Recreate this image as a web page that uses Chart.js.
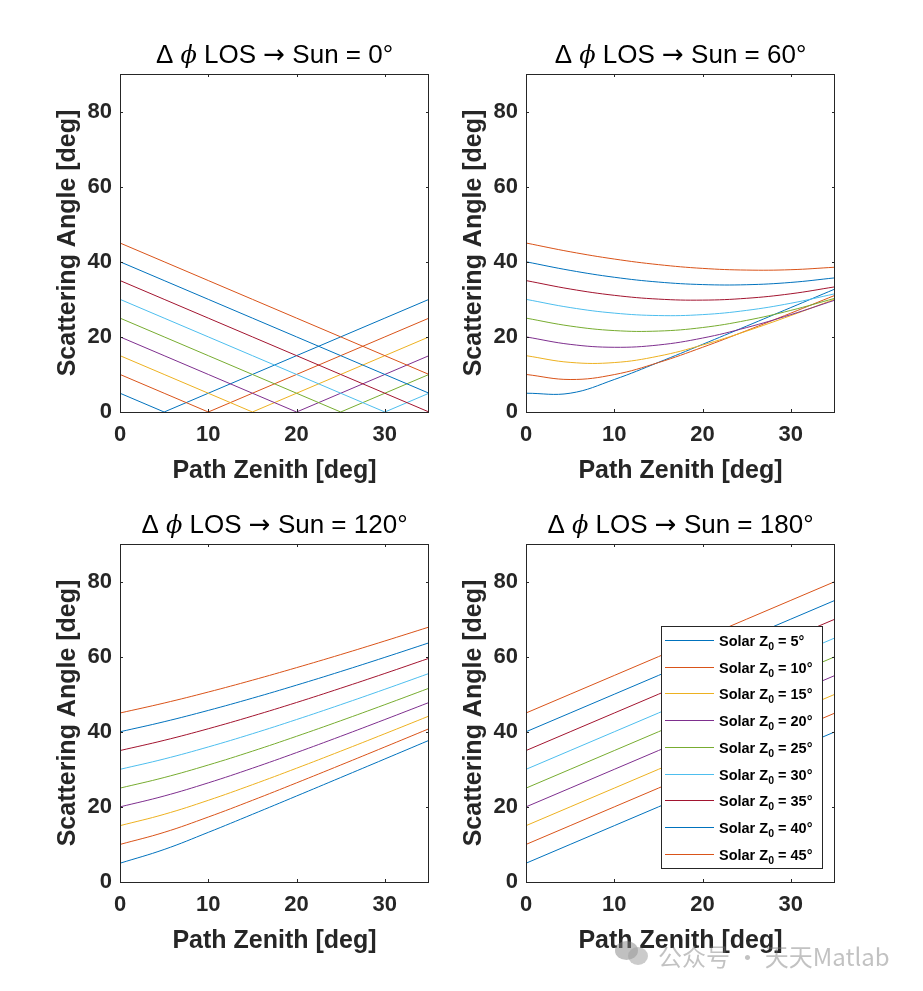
<!DOCTYPE html>
<html>
<head>
<meta charset="utf-8">
<script src="https://cdn.jsdelivr.net/npm/chart.js@4.4.1/dist/chart.umd.min.js"></script>
<style>
  body { margin: 0; background: #fff; }
  #page { position: relative; width: 923px; height: 991px; overflow: hidden; background: #fff; }
  canvas { position: absolute; }
  #mark { position: absolute; left: 658px; top: 941px; font-family: "Noto Sans CJK SC", sans-serif; font-size: 24px; line-height: 30px; color: rgba(120,120,120,0.45); white-space: nowrap; }
  .bubble { position: absolute; border-radius: 50%; background: rgba(130,130,130,0.5); }
</style>
</head>
<body>
<div id="page">
  <canvas id="p0" width="461" height="495" style="left:0px;top:0px"></canvas>
  <canvas id="p1" width="461" height="495" style="left:406px;top:0px"></canvas>
  <canvas id="p2" width="461" height="495" style="left:0px;top:470px"></canvas>
  <canvas id="p3" width="461" height="495" style="left:406px;top:470px"></canvas>
  <div class="bubble" style="left:615px;top:941px;width:23px;height:19px"></div>
  <div class="bubble" style="left:628px;top:947px;width:20px;height:18px;background:rgba(160,160,160,0.55)"></div>
  <div id="mark">公众号 · 天天Matlab</div>
</div>
<script>
// path zenith angle (x) and solar zenith of each curve
const pathZenith = [0, 5, 10, 15, 20, 25, 30, 35];
const solarZenith = [5, 10, 15, 20, 25, 30, 35, 40, 45];
const xTickValues = [0, 10, 20, 30];
const yTickValues = [0, 20, 40, 60, 80];
const azimuthDiff = [0, 60, 120, 180];

// scattering angle [deg], one row per solar zenith
const scatterDphi0 = [
    [5, 0, 5, 10, 15, 20, 25, 30],
    [10, 5, 0, 5, 10, 15, 20, 25],
    [15, 10, 5, 0, 5, 10, 15, 20],
    [20, 15, 10, 5, 0, 5, 10, 15],
    [25, 20, 15, 10, 5, 0, 5, 10],
    [30, 25, 20, 15, 10, 5, 0, 5],
    [35, 30, 25, 20, 15, 10, 5, 0],
    [40, 35, 30, 25, 20, 15, 10, 5],
    [45, 40, 35, 30, 25, 20, 15, 10]
];
const scatterDphi60 = [
    [5, 5.00, 8.65, 13.21, 18.01, 22.89, 27.81, 32.75],
    [10, 8.65, 9.96, 13.16, 17.23, 21.68, 26.33, 31.07],
    [15, 13.21, 13.16, 14.87, 17.84, 21.55, 25.68, 30.06],
    [20, 18.01, 17.23, 17.84, 19.69, 22.49, 25.93, 29.79],
    [25, 22.89, 21.68, 21.55, 22.49, 24.40, 27.06, 30.28],
    [30, 27.81, 26.33, 25.68, 25.93, 27.06, 28.96, 31.48],
    [35, 32.75, 31.07, 30.06, 29.79, 30.28, 31.48, 33.33],
    [40, 37.71, 35.88, 34.60, 33.93, 33.89, 34.50, 35.72],
    [45, 42.67, 40.73, 39.24, 38.24, 37.79, 37.89, 38.55]
];
const scatterDphi120 = [
    [5, 8.66, 13.22, 18.02, 22.90, 27.82, 32.76, 37.72],
    [10, 13.22, 17.30, 21.75, 26.40, 31.15, 35.96, 40.81],
    [15, 18.02, 21.75, 25.91, 30.30, 34.84, 39.48, 44.19],
    [20, 22.90, 26.40, 30.30, 34.46, 38.80, 43.26, 47.80],
    [25, 27.82, 31.15, 34.84, 38.80, 42.94, 47.22, 51.60],
    [30, 32.76, 35.96, 39.48, 43.26, 47.22, 51.32, 55.53],
    [35, 37.72, 40.81, 44.19, 47.80, 51.60, 55.53, 59.57],
    [40, 42.68, 45.69, 48.95, 52.42, 56.05, 59.82, 63.69],
    [45, 47.65, 50.58, 53.74, 57.08, 60.56, 64.18, 67.89]
];
const scatterDphi180 = [
    [5, 10, 15, 20, 25, 30, 35, 40],
    [10, 15, 20, 25, 30, 35, 40, 45],
    [15, 20, 25, 30, 35, 40, 45, 50],
    [20, 25, 30, 35, 40, 45, 50, 55],
    [25, 30, 35, 40, 45, 50, 55, 60],
    [30, 35, 40, 45, 50, 55, 60, 65],
    [35, 40, 45, 50, 55, 60, 65, 70],
    [40, 45, 50, 55, 60, 65, 70, 75],
    [45, 50, 55, 60, 65, 70, 75, 80]
];

const seriesColors = ['#0072BD', '#D95319', '#EDB120', '#7E2F8E', '#77AC30', '#4DBEEE', '#A2142F', '#0072BD', '#D95319'];
const FONT = '"Liberation Sans", Arial, Helvetica, sans-serif';
const AXIS_COLOR = '#262626';

// matlab style box with inward ticks on all four sides
const framePlugin = {
    id: 'frame',
    afterDatasetsDraw(chart) {
        const { ctx, chartArea: a, scales } = chart;
        ctx.save();
        ctx.strokeStyle = AXIS_COLOR;
        ctx.lineWidth = 1;
        ctx.beginPath();
        scales.x.ticks.forEach(t => {
            const px = Math.round(scales.x.getPixelForValue(t.value)) + 0.5;
            ctx.moveTo(px, a.bottom); ctx.lineTo(px, a.bottom - 3);
            ctx.moveTo(px, a.top); ctx.lineTo(px, a.top + 3);
        });
        scales.y.ticks.forEach(t => {
            const py = Math.round(scales.y.getPixelForValue(t.value)) + 0.5;
            ctx.moveTo(a.left, py); ctx.lineTo(a.left + 3, py);
            ctx.moveTo(a.right, py); ctx.lineTo(a.right - 3, py);
        });
        ctx.stroke();
        ctx.strokeRect(a.left + 0.5, a.top + 0.5, a.right - a.left - 1, a.bottom - a.top);
        ctx.restore();
    }
};

// title with italic phi and a tex-like arrow, drawn in pieces
const titlePlugin = {
    id: 'panelTitle',
    afterDraw(chart, args, opts) {
        const { ctx, chartArea: a } = chart;
        const parts = [
            { text: '\u0394 ', font: '26px ' + FONT },
            { text: '\u03D5', font: 'italic 24px "DejaVu Serif"' },
            { text: ' LOS ', font: '26px ' + FONT },
            { text: '\u2192', font: '26px "DejaVu Sans"' },
            { text: ' Sun = ' + opts.angle + '\u00B0', font: '26px ' + FONT }
        ];
        ctx.save();
        ctx.fillStyle = '#000';
        ctx.textBaseline = 'alphabetic';
        let total = 0;
        parts.forEach(p => { ctx.font = p.font; p.w = ctx.measureText(p.text).width; total += p.w; });
        let x = (a.left + a.right) / 2 - total / 2;
        parts.forEach(p => { ctx.font = p.font; ctx.fillText(p.text, x, a.top - 11); x += p.w; });
        ctx.restore();
    }
};

// legend box with subscripted Z0
const legendPlugin = {
    id: 'zLegend',
    afterDraw(chart) {
        const { ctx, chartArea: a } = chart;
        const w = 161, h = 242;
        const left = a.right - 13 - w, top = a.bottom - 14 - h;
        ctx.save();
        ctx.fillStyle = '#fff';
        ctx.fillRect(left, top, w, h);
        ctx.strokeStyle = AXIS_COLOR;
        ctx.lineWidth = 1;
        ctx.strokeRect(left + 0.5, top + 0.5, w, h);
        chart.data.datasets.forEach((ds, i) => {
            const y = Math.round(top + 14 + i * 26.7) + 0.5;
            ctx.strokeStyle = ds.borderColor;
            ctx.beginPath();
            ctx.moveTo(left + 4, y); ctx.lineTo(left + 53, y);
            ctx.stroke();
            ctx.fillStyle = '#000';
            let x = left + 58;
            ctx.font = 'bold 14.5px ' + FONT;
            ctx.fillText('Solar Z', x, y + 5);
            x += ctx.measureText('Solar Z').width;
            ctx.font = 'bold 10.5px ' + FONT;
            ctx.fillText('0', x, y + 9);
            x += ctx.measureText('0').width;
            ctx.font = 'bold 14.5px ' + FONT;
            ctx.fillText(' = ' + solarZenith[i] + '\u00B0', x, y + 5);
        });
        ctx.restore();
    }
};

function makePanel(id, angle, rows, smooth, withLegend) {
    new Chart(document.getElementById(id), {
        type: 'line',
        data: {
            datasets: rows.map((row, i) => ({
                label: 'Solar Z0 = ' + solarZenith[i] + '\u00B0',
                data: row.map((v, j) => ({ x: pathZenith[j], y: v })),
                borderColor: seriesColors[i],
                borderWidth: 1,
                pointRadius: 0,
                tension: smooth,
                order: solarZenith.length - i
            }))
        },
        options: {
            responsive: false,
            animation: false,
            layout: { padding: { top: 74, right: 32, left: 0, bottom: 0 } },
            plugins: {
                legend: { display: false },
                tooltip: { enabled: false },
                panelTitle: { angle: angle }
            },
            scales: {
                x: {
                    type: 'linear', min: 0, max: 35,
                    afterBuildTicks: s => { s.ticks = xTickValues.map(v => ({ value: v })); },
                    afterFit: s => { s.height = 83; },
                    grid: { display: false, drawTicks: false },
                    border: { display: false },
                    ticks: { color: AXIS_COLOR, padding: 10, font: { family: FONT, size: 22, weight: 'bold' } },
                    title: { display: true, text: 'Path Zenith [deg]', color: AXIS_COLOR,
                             font: { family: FONT, size: 25, weight: 'bold' }, padding: { top: 0, bottom: 9 } }
                },
                y: {
                    type: 'linear', min: 0, max: 90,
                    afterBuildTicks: s => { s.ticks = yTickValues.map(v => ({ value: v })); },
                    afterFit: s => { s.width = 120; },
                    grid: { display: false, drawTicks: false },
                    border: { display: false },
                    ticks: { color: AXIS_COLOR, padding: 8, font: { family: FONT, size: 22, weight: 'bold' } },
                    title: { display: true, text: 'Scattering Angle [deg]', color: AXIS_COLOR,
                             font: { family: FONT, size: 25, weight: 'bold' }, padding: { top: 53, bottom: 0 } }
                }
            }
        },
        plugins: withLegend ? [framePlugin, titlePlugin, legendPlugin] : [framePlugin, titlePlugin]
    });
}

makePanel('p0', azimuthDiff[0], scatterDphi0, 0, false);
makePanel('p1', azimuthDiff[1], scatterDphi60, 0.4, false);
makePanel('p2', azimuthDiff[2], scatterDphi120, 0.4, false);
makePanel('p3', azimuthDiff[3], scatterDphi180, 0, true);
</script>
</body>
</html>
